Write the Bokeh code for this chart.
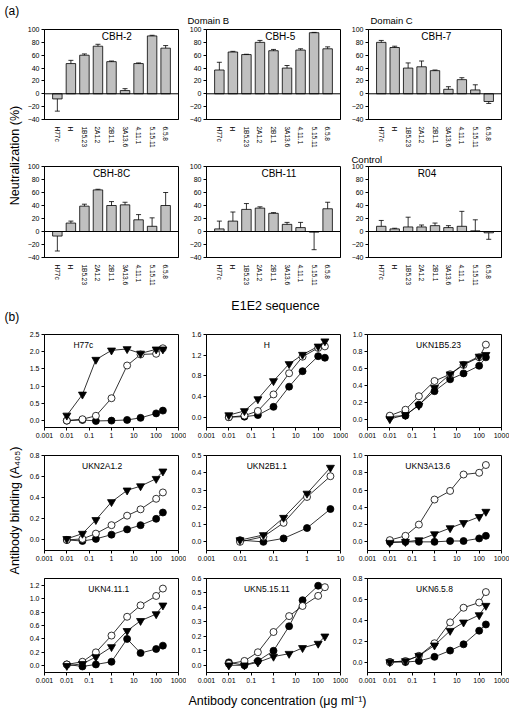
import math
from bokeh.plotting import figure
from bokeh.layouts import row, column
from bokeh.models import (Range1d, FactorRange, FixedTicker, CustomJSTickFormatter,
                          PrintfTickFormatter, Span, Title)
from bokeh.core.properties import value
from bokeh.embed import file_html
from bokeh.resources import INLINE

FONT = "Liberation Sans"
NAN = float("nan")

# ---------------- Panel (a): neutralization (%) ----------------
sequences = ["H77c", "H", "1B5.23", "2A1.2", "2B1.1", "3A13.6", "4.11.1", "5.15.11", "6.5.8"]
a_yticks = [-40, -20, 0, 20, 40, 60, 80, 100]

cbh2_mean = [-8, 47, 60, 74, 50, 5, 47, 90, 71]
cbh2_err = [19, 5, 2, 3, 1, 3, 1, 1, 4]
cbh5_mean = [37, 65, 61, 80, 67, 40, 68, 95, 70]
cbh5_err = [12, 1, 0.5, 3, 2, 4, 2, 0.5, 3]
cbh7_mean = [80, 72, 40, 42, 36, 7, 22, 6, -12]
cbh7_err = [3, 2, 8, 9, 1, 4, 3, 8, 3]
cbh8c_mean = [-7, 13, 39, 64, 40, 41, 18, 8, 40]
cbh8c_err = [23, 3, 3, 1, 6, 4, 8, 13, 20]
cbh11_mean = [4, 16, 34, 36, 28, 11, 6, -1, 35]
cbh11_err = [12, 14, 9, 2, 1, 3, 8, 27, 10]
r04_mean = [8, 4, 7, 7, 9, 6, 8, 1, -2]
r04_err = [9, 1, 15, 3, 4, 3, 23, 17, 10]

# ---------------- Panel (b): antibody binding ----------------
concentration = [0.01, 0.05, 0.2, 1, 5, 20, 100, 200]
concentration_2b11 = [0.01, 0.05, 0.2, 1, 5]
x_ticks_full = [0.001, 0.01, 0.1, 1, 10, 100, 1000]
x_ticks_short = [0.001, 0.01, 0.1, 1, 10]

h77c_filled = [0.0, 0.02, -0.01, 0.0, 0.02, 0.08, 0.21, 0.29]
h77c_open = [0.0, 0.04, 0.14, 0.65, 1.6, 1.92, 1.94, 2.1]
h77c_tri = [0.15, 0.76, 1.77, 2.04, 2.08, 1.95, 2.07, 2.07]
h77c_yticks = [0.0, 0.5, 1.0, 1.5, 2.0, 2.5]

h_filled = [0.0, 0.01, 0.04, 0.2, 0.59, 0.89, 1.18, 1.15]
h_open = [0.0, 0.03, 0.12, 0.44, 0.85, 1.17, 1.34, 1.37]
h_tri = [0.04, 0.12, 0.35, 0.70, 1.03, 1.21, 1.37, 1.47]
h_yticks = [0.0, 0.4, 0.8, 1.2, 1.6]

ukn1b523_filled = [0.03, 0.04, 0.17, 0.33, 0.47, 0.54, 0.63, 0.73]
ukn1b523_open = [0.04, 0.11, 0.27, 0.45, 0.53, 0.64, 0.73, 0.88]
ukn1b523_tri = [0.0, 0.05, 0.16, 0.37, 0.53, 0.65, 0.74, 0.76]
ukn1b523_yticks = [0.0, 0.2, 0.4, 0.6, 0.8, 1.0]

ukn2a12_filled = [0.0, -0.01, 0.01, 0.05, 0.1, 0.14, 0.2, 0.26]
ukn2a12_open = [0.0, 0.01, 0.06, 0.14, 0.23, 0.29, 0.39, 0.45]
ukn2a12_tri = [0.01, 0.06, 0.19, 0.36, 0.47, 0.51, 0.58, 0.65]
ukn2a12_yticks = [0.0, 0.2, 0.4, 0.6, 0.8]

ukn2b11_filled = [0.01, 0.0, 0.02, 0.08, 0.19]
ukn2b11_open = [0.0, 0.03, 0.11, 0.26, 0.38]
ukn2b11_tri = [0.01, 0.04, 0.14, 0.28, 0.43]
ukn2b11_yticks = [0.0, 0.1, 0.2, 0.3, 0.4, 0.5]

ukn3a136_filled = [0.0, 0.0, 0.0, 0.0, 0.01, 0.01, 0.04, 0.07]
ukn3a136_open = [0.02, 0.07, 0.2, 0.49, 0.59, 0.78, 0.8, 0.89]
ukn3a136_tri = [-0.01, 0.0, 0.02, 0.09, 0.16, 0.22, 0.29, 0.35]
ukn3a136_yticks = [0.0, 0.2, 0.4, 0.6, 0.8, 1.0]

ukn4111_filled = [0.02, -0.01, 0.02, 0.06, 0.4, 0.19, 0.25, 0.3]
ukn4111_open = [0.02, 0.06, 0.2, 0.45, 0.73, 0.9, 1.04, 1.15]
ukn4111_tri = [0.0, 0.03, 0.13, 0.28, 0.52, 0.67, 0.77, 0.9]
ukn4111_yticks = [0.0, 0.2, 0.4, 0.6, 0.8, 1.0, 1.2]

ukn51511_filled = [0.02, 0.0, 0.03, 0.10, 0.27, 0.45, 0.55, NAN]
ukn51511_open = [0.01, 0.03, 0.09, 0.23, 0.34, 0.41, 0.48, 0.54]
ukn51511_tri = [0.0, 0.0, 0.02, 0.06, 0.08, 0.12, 0.15, 0.2]
ukn51511_yticks = [0.0, 0.1, 0.2, 0.3, 0.4, 0.5, 0.6]

ukn658_filled = [0.0, 0.0, 0.01, 0.05, 0.11, 0.17, 0.3, 0.36]
ukn658_open = [0.0, 0.01, 0.06, 0.18, 0.38, 0.52, 0.57, 0.67]
ukn658_tri = [0.0, 0.01, 0.06, 0.16, 0.3, 0.38, 0.45, 0.54]
ukn658_yticks = [0.0, 0.2, 0.4, 0.6, 0.8]

# ---------------- layout constants (page px) ----------------
FRAME_W = 134
COL_LEFT = [20, 20, 19]
COL_RIGHT = 8
STRIP_W = 24
TOTAL_W = STRIP_W + sum(l + FRAME_W + COL_RIGHT for l in COL_LEFT)


def style_frame(p):
    p.grid.visible = False
    p.outline_line_color = "black"
    p.outline_line_alpha = 1.0
    p.outline_line_width = 1
    for ax in p.axis:
        ax.major_label_text_font = FONT
        ax.major_label_text_font_size = "7px"
        ax.major_label_text_color = "black"
        ax.axis_line_color = "black"
        ax.major_tick_line_color = "black"
        ax.major_tick_in = 0
        ax.major_tick_out = 3
        ax.minor_tick_line_color = None
        ax.major_label_standoff = 2


def put_text(p, x, y, text, size, align="center", angle=0.0):
    p.text(x=[x], y=[y], text=[text], angle=angle, text_font=value(FONT),
           text_font_size=size, text_color="black", text_align=align,
           text_baseline="middle")


def add_title(p, text, offset, standoff):
    p.add_layout(Title(text=text, align="left", offset=offset, standoff=standoff,
                       text_font=FONT, text_font_size="9.5px", text_font_style="normal",
                       text_color="black"), "above")


def bar_panel(title, means, errs, col, mb_top, frame_h, mb_bottom, title_frac):
    ends = [m + (e if m >= 0 else -e) for m, e in zip(means, errs)]
    w = COL_LEFT[col] + FRAME_W + COL_RIGHT
    xr = FactorRange(factors=sequences, range_padding=0.1)
    ymin, ymax = a_yticks[0], a_yticks[-1]
    p = figure(width=w, height=mb_top + frame_h + mb_bottom,
               x_range=xr, y_range=Range1d(ymin, ymax),
               toolbar_location=None, output_backend="svg",
               min_border_left=COL_LEFT[col], min_border_right=COL_RIGHT,
               min_border_top=mb_top, min_border_bottom=mb_bottom)
    p.vbar(x=sequences, top=means, bottom=0, width=0.7,
           fill_color="#c0c0c0", line_color="black", line_width=0.8)
    p.segment(x0=sequences, y0=means, x1=sequences, y1=ends,
              line_color="black", line_width=0.8)
    p.scatter(x=sequences, y=ends, marker="dash", size=5,
              line_color="black", line_width=0.8)
    p.add_layout(Span(location=0, dimension="width", line_color="black", line_width=1))
    style_frame(p)
    p.yaxis.ticker = FixedTicker(ticks=a_yticks, minor_ticks=[])
    p.yaxis.formatter = CustomJSTickFormatter(
        code="return tick < 0 ? '\u2212' + Math.abs(tick) : String(tick);")
    p.xaxis.major_label_orientation = "vertical"
    p.xaxis.major_tick_line_color = None
    p.xaxis.major_label_standoff = 4
    p.xaxis.major_label_text_font_size = "6.5px"
    n = len(sequences)
    pad = 0.05 * n
    tx = -pad + title_frac * (n + 2 * pad)
    ty = ymax - 7 * (ymax - ymin) / frame_h
    put_text(p, tx, ty, title, "10px")
    return p


def binding_panel(title, xs, filled, open_, tri, xticks, ymin, ymax, yticks,
                  col, mb_top, frame_h, mb_bottom, title_frac):
    w = COL_LEFT[col] + FRAME_W + COL_RIGHT
    x0, x1 = xticks[0], xticks[-1]
    p = figure(width=w, height=mb_top + frame_h + mb_bottom,
               x_axis_type="log", x_range=Range1d(x0, x1),
               y_range=Range1d(ymin, ymax),
               toolbar_location=None, output_backend="svg",
               min_border_left=COL_LEFT[col], min_border_right=COL_RIGHT,
               min_border_top=mb_top, min_border_bottom=mb_bottom)
    for ys in (filled, open_, tri):
        p.line(xs, ys, line_color="black", line_width=0.8)
    p.scatter(xs, filled, marker="circle", size=7, fill_color="black",
              line_color="black", line_width=0.8)
    p.scatter(xs, open_, marker="circle", size=7, fill_color="white",
              line_color="black", line_width=0.8)
    p.scatter(xs, tri, marker="inverted_triangle", size=8, fill_color="black",
              line_color="black", line_width=0.8)
    style_frame(p)
    p.xaxis.ticker = FixedTicker(ticks=xticks, minor_ticks=[])
    p.xaxis.formatter = CustomJSTickFormatter(code="return String(tick);")
    p.yaxis.ticker = FixedTicker(ticks=yticks, minor_ticks=[])
    p.yaxis.formatter = PrintfTickFormatter(format="%.1f")
    lx0, lx1 = math.log10(x0), math.log10(x1)
    tx = 10 ** (lx0 + title_frac * (lx1 - lx0))
    ty = ymax - 10 * (ymax - ymin) / frame_h
    put_text(p, tx, ty, title, "8.5px")
    return p


def strip(w, h):
    p = figure(width=w, height=h, x_range=Range1d(0, w), y_range=Range1d(0, h),
               toolbar_location=None, output_backend="svg", min_border=0,
               x_axis_location=None, y_axis_location=None, outline_line_color=None)
    p.grid.visible = False
    return p


# ---------------- panel (a) ----------------
A1 = dict(mb_top=29, frame_h=94, mb_bottom=27)
A2 = dict(mb_top=16, frame_h=92, mb_bottom=30)
a1 = bar_panel("CBH-2", cbh2_mean, cbh2_err, 0, title_frac=0.54, **A1)
a2 = bar_panel("CBH-5", cbh5_mean, cbh5_err, 1, title_frac=0.55, **A1)
a3 = bar_panel("CBH-7", cbh7_mean, cbh7_err, 2, title_frac=0.51, **A1)
a4 = bar_panel("CBH-8C", cbh8c_mean, cbh8c_err, 0, title_frac=0.50, **A2)
a5 = bar_panel("CBH-11", cbh11_mean, cbh11_err, 1, title_frac=0.54, **A2)
a6 = bar_panel("R04", r04_mean, r04_err, 2, title_frac=0.44, **A2)
add_title(a2, "Domain B", -19, 8)
add_title(a3, "Domain C", 2, 8)
add_title(a6, "Control", -17, 3)

hA = sum(A1.values()) + sum(A2.values())
leftA = strip(STRIP_W, hA)
put_text(leftA, 4, hA - 10, "(a)", "12px", align="left")
put_text(leftA, 14, hA - 155, "Neutralization (%)", "12.5px", angle=math.pi / 2)
panelA = row(leftA, column(row(a1, a2, a3), row(a4, a5, a6)))

hAB = 38
stripAB = strip(TOTAL_W, hAB)
put_text(stripAB, 275, hAB - 17, "E1E2 sequence", "12.5px")
put_text(stripAB, 4, hAB - 28, "(b)", "12px", align="left")

# ---------------- panel (b) ----------------
B1 = dict(mb_top=8, frame_h=93, mb_bottom=20)
B2 = dict(mb_top=8, frame_h=95, mb_bottom=20)
B3 = dict(mb_top=8, frame_h=94, mb_bottom=14)
b1 = binding_panel("H77c", concentration, h77c_filled, h77c_open, h77c_tri,
                   x_ticks_full, -0.2, 2.5, h77c_yticks, 0, title_frac=0.29, **B1)
b2 = binding_panel("H", concentration, h_filled, h_open, h_tri,
                   x_ticks_full, -0.2, 1.6, h_yticks, 1, title_frac=0.45, **B1)
b3 = binding_panel("UKN1B5.23", concentration, ukn1b523_filled, ukn1b523_open, ukn1b523_tri,
                   x_ticks_full, -0.1, 1.0, ukn1b523_yticks, 2, title_frac=0.53, **B1)
b4 = binding_panel("UKN2A1.2", concentration, ukn2a12_filled, ukn2a12_open, ukn2a12_tri,
                   x_ticks_full, -0.1, 0.8, ukn2a12_yticks, 0, title_frac=0.43, **B2)
b5 = binding_panel("UKN2B1.1", concentration_2b11, ukn2b11_filled, ukn2b11_open, ukn2b11_tri,
                   x_ticks_short, -0.05, 0.5, ukn2b11_yticks, 1, title_frac=0.45, **B2)
b6 = binding_panel("UKN3A13.6", concentration, ukn3a136_filled, ukn3a136_open, ukn3a136_tri,
                   x_ticks_full, -0.1, 1.0, ukn3a136_yticks, 2, title_frac=0.45, **B2)
b7 = binding_panel("UKN4.11.1", concentration, ukn4111_filled, ukn4111_open, ukn4111_tri,
                   x_ticks_full, -0.1, 1.3, ukn4111_yticks, 0, title_frac=0.48, **B3)
b8 = binding_panel("UKN5.15.11", concentration, ukn51511_filled, ukn51511_open, ukn51511_tri,
                   x_ticks_full, -0.05, 0.6, ukn51511_yticks, 1, title_frac=0.45, **B3)
b9 = binding_panel("UKN6.5.8", concentration, ukn658_filled, ukn658_open, ukn658_tri,
                   x_ticks_full, -0.1, 0.8, ukn658_yticks, 2, title_frac=0.50, **B3)

hB = sum(B1.values()) + sum(B2.values()) + sum(B3.values())
leftB = strip(STRIP_W, hB)
put_text(leftB, 14, hB - 184, "Antibody binding (A\u2084\u2080\u2085)", "12.5px", angle=math.pi / 2)
panelB = row(leftB, column(row(b1, b2, b3), row(b4, b5, b6), row(b7, b8, b9)))

hBot = 24
stripB = strip(TOTAL_W, hBot)
put_text(stripB, 277, hBot - 14, "Antibody concentration (\u03bcg ml\u207b\u00b9)", "12.5px")

layout = column(panelA, stripAB, panelB, stripB)

with open("out.html", "w") as f:
    f.write(file_html(layout, INLINE))
